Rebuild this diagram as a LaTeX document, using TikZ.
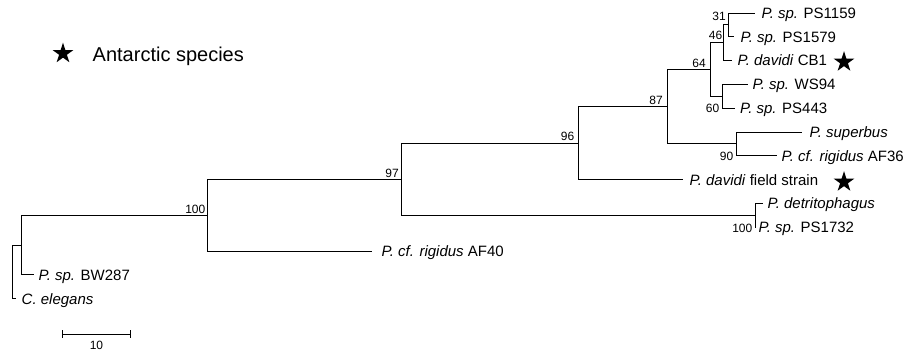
\documentclass[tikz,border=0pt]{standalone}
\usepackage{fontspec}
\setmainfont{Liberation Sans}
\usetikzlibrary{shapes.geometric}
\tikzset{
  br/.style={line width=0.9pt, black},
  leaf/.style={anchor=base west, inner sep=0pt, font=\fontsize{15}{18}\selectfont},
  bs/.style={anchor=base east, inner sep=0pt, font=\fontsize{12}{14}\selectfont},
  mystar/.style={star, star points=5, star point ratio=2.618, fill=black, draw=none, minimum size=21.6pt, inner sep=0pt}
}
\begin{document}
\begin{tikzpicture}[x=1pt, y=-1pt]
\useasboundingbox (0,0) rectangle (912,353);
% internal nodes
\coordinate (root) at (12,271.8);
\coordinate (nBW) at (21,245);
\coordinate (n100) at (207.5,215.1);
\coordinate (n97) at (401,179.2);
\coordinate (n96) at (578,143.2);
\coordinate (n87) at (667,106.7);
\coordinate (n64) at (710,69.5);
\coordinate (n46) at (723.5,42.75);
\coordinate (n31) at (728.5,24.9);
\coordinate (n60) at (722.5,96.3);
\coordinate (n90) at (736,143.9);
\coordinate (ndet) at (755,215.3);
% tips
\coordinate (t0) at (755,13);
\coordinate (t1) at (734,36.8);
\coordinate (t2) at (732,60.6);
\coordinate (t3) at (748,84.4);
\coordinate (t4) at (735,108.2);
\coordinate (t5) at (802,132);
\coordinate (t6) at (777,155.8);
\coordinate (t7) at (683,179.6);
\coordinate (t8) at (763,203.4);
\coordinate (t9) at (755.6,227.2);
\coordinate (t10) at (372,251);
\coordinate (t11) at (34,274.8);
\coordinate (t12) at (16,298.6);
% branches
\draw[br] (root) |- (nBW);
\draw[br] (root) |- (t12);
\draw[br] (nBW) |- (n100);
\draw[br] (nBW) |- (t11);
\draw[br] (n100) |- (n97);
\draw[br] (n100) |- (t10);
\draw[br] (n97) |- (n96);
\draw[br] (n97) |- (ndet);
\draw[br] (n96) |- (n87);
\draw[br] (n96) |- (t7);
\draw[br] (n87) |- (n64);
\draw[br] (n87) |- (n90);
\draw[br] (n64) |- (n46);
\draw[br] (n64) |- (n60);
\draw[br] (n46) |- (n31);
\draw[br] (n46) |- (t2);
\draw[br] (n31) |- (t0);
\draw[br] (n31) |- (t1);
\draw[br] (n60) |- (t3);
\draw[br] (n60) |- (t4);
\draw[br] (n90) |- (t5);
\draw[br] (n90) |- (t6);
\draw[br] (ndet) |- (t8);
\draw[br] (ndet) |- (t9);
% leaf labels
\node[leaf] (l0) at (761.5,18.4) {\textit{P. sp.} PS1159};
\node[leaf] (l1) at (740.5,42.2) {\textit{P. sp.} PS1579};
\node[leaf] (l2) at (737.5,66) {\textit{P. davidi} CB1};
\node[leaf] (l3) at (752.5,89.8) {\textit{P. sp.} WS94};
\node[leaf] (l4) at (740,113.6) {\textit{P. sp.} PS443};
\node[leaf] (l5) at (809.5,137.4) {\textit{P. superbus}};
\node[leaf] (l6) at (781.5,161.2) {\textit{P. cf. rigidus} AF36};
\node[leaf] (l7) at (689.5,185) {\textit{P. davidi} field strain};
\node[leaf] (l8) at (767.5,208.8) {\textit{P. detritophagus}};
\node[leaf] (l9) at (758.5,232.6) {\textit{P. sp.} PS1732};
\node[leaf] (l10) at (381.5,256.4) {\textit{P. cf. rigidus} AF40};
\node[leaf] (l11) at (38.5,280.2) {\textit{P. sp.} BW287};
\node[leaf] (l12) at (21.5,304) {\textit{C. elegans}};
% stars
\node[mystar] (s1) at (844,62) {};
\node[mystar] (s2) at (844,182) {};
% bootstrap values
\node[bs] (b31) at (726,21) {31};
\node[bs] (b46) at (722.5,39.3) {46};
\node[bs] (b64) at (706,67) {64};
\node[bs] (b87) at (663,104.5) {87};
\node[bs] (b96) at (574.5,140.5) {96};
\node[bs] (b97) at (399,177) {97};
\node[bs] (b100a) at (205.5,213.5) {100};
\node[bs] (b60) at (719.5,112) {60};
\node[bs] (b90) at (733.5,160) {90};
\node[bs] (b100b) at (752.5,232.5) {100};
% legend
\node[mystar] (ls) at (63,53.5) {};
\node[anchor=base west, inner sep=0pt, font=\fontsize{20}{24}\selectfont] (lt) at (92.5,61.3) {Antarctic species};
% scale bar
\coordinate (sb1) at (62,334);
\coordinate (sb2) at (130,334);
\draw[br] (sb1) -- (sb2);
\draw[br] ([yshift=4pt]sb1) -- ([yshift=-4pt]sb1);
\draw[br] ([yshift=4pt]sb2) -- ([yshift=-4pt]sb2);
\node[anchor=base, inner sep=0pt, font=\fontsize{12}{14}\selectfont] (sbl) at (96.5,349.3) {10};
\end{tikzpicture}
\end{document}
